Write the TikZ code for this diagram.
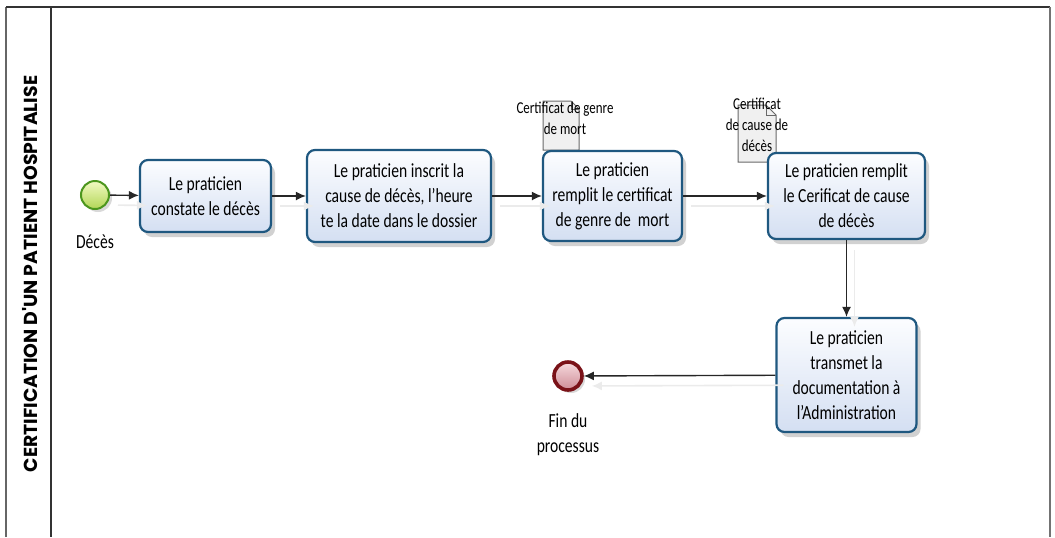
\documentclass[tikz,border=0pt]{standalone}
\usepackage{fontspec}
\setmainfont{Carlito}[FakeStretch=0.78]
\newfontfamily\lanefont{Poppins}
\usetikzlibrary{arrows.meta,shadows}

\definecolor{taskborder}{RGB}{31,88,128}
\definecolor{tasktop}{RGB}{252,253,255}
\definecolor{taskbottom}{RGB}{212,223,242}
\definecolor{startborder}{RGB}{76,150,30}
\definecolor{starttop}{RGB}{242,250,195}
\definecolor{startbottom}{RGB}{178,214,86}
\definecolor{stopborder}{RGB}{122,18,24}
\definecolor{stoptop}{RGB}{246,218,222}
\definecolor{stopbottom}{RGB}{206,140,150}
\definecolor{docfill}{RGB}{240,240,240}
\definecolor{docborder}{RGB}{105,105,105}

\begin{document}
\begin{tikzpicture}[x=0.5pt,y=-0.5pt,
    task/.style={draw=taskborder,line width=1.1pt,rounded corners=4pt,
      top color=tasktop,bottom color=taskbottom,align=center,inner sep=2pt,
      font=\fontsize{10}{12.5}\selectfont,
      drop shadow={shadow xshift=2pt,shadow yshift=-2.5pt,opacity=0.3,fill=black!60}},
    event/.style={circle,minimum size=14pt,inner sep=0pt,
      drop shadow={shadow xshift=1.5pt,shadow yshift=-1.5pt,opacity=0.25,fill=black!60}},
    startevent/.style={event,draw=startborder,line width=1pt,
      top color=starttop,bottom color=startbottom},
    stopevent/.style={event,draw=stopborder,line width=1.8pt,
      top color=stoptop,bottom color=stopbottom},
    evlabel/.style={align=center,font=\fontsize{10}{12.5}\selectfont},
    doclabel/.style={align=center,font=\fontsize{8.3}{10.5}\selectfont},
    flow/.style={-{Latex[length=5pt,width=4.5pt]},line width=0.7pt,black!85,
      preaction={draw=black!8,line width=0.8pt,
        transform canvas={xshift=4pt,yshift=-5pt}}}]

    \useasboundingbox (0,0) rectangle (1055,537);

    %==================== Pool and lane ====================
    \draw[black!60,line width=0.6pt] (6,537) -- (6,7);
    \draw[black!80,line width=1.2pt] (6,7) -- (1050,7);
    \draw[black!55,line width=1.2pt] (1050,7) -- (1050,537);
    \draw[black!80,line width=0.6pt] (51,7) -- (51,537);
    \node[rotate=90,font=\lanefont\bfseries\fontsize{9.4}{10}\selectfont] (lane)
      at (30,274) {CERTIFICATION D'UN PATIENT HOSPITALISE};

    %==================== Data objects ====================
    \foreach \x/\y/\w/\h/\f in {543/101/36/49/8, 738/105/38/57/10} {
      \draw[docborder,fill=docfill,line width=0.5pt]
        (\x,\y) -- (\x+\w-\f,\y) -- (\x+\w,\y+\f) -- (\x+\w,\y+\h) -- (\x,\y+\h) -- cycle;
      \draw[docborder,line width=0.5pt] (\x+\w-\f,\y) -- (\x+\w-\f,\y+\f) -- (\x+\w,\y+\f);
    }
    \node[doclabel] (doc1) at (565,118) {Certificat de genre\\de mort};
    \node[doclabel] (doc2) at (757,125) {Certificat\\de cause de\\décès};

    %==================== Events ====================
    \node[startevent] (start) at (95,195) {};
    \node[evlabel] (startlbl) at (95,242) {Décès};
    \node[stopevent] (stop) at (568,376) {};
    \node[evlabel] (stoplbl) at (568,435) {Fin du\\processus};

    %==================== Tasks ====================
    \node[task,minimum width=65.5pt,minimum height=36pt] (t1) at (205.5,196)
      {Le praticien\\constate le décès};
    \node[task,minimum width=92pt,minimum height=46pt] (t2) at (399,196)
      {Le praticien inscrit la\\cause de décès, l'heure\\te la date dans le dossier};
    \node[task,minimum width=69.5pt,minimum height=45pt] (t3) at (612.5,196)
      {Le praticien\\remplit le certificat\\de genre de\ \ mort};
    \node[task,minimum width=78.5pt,minimum height=43pt] (t4) at (846.5,196)
      {Le praticien remplit\\le Cerificat de cause\\de décès};
    \node[task,minimum width=70pt,minimum height=57pt] (t5) at (846.5,375)
      {Le praticien\\transmet la\\documentation à\\l'Administration};

    %==================== Sequence flows ====================
    \foreach \a/\b in {start/t1,t1/t2,t2/t3,t3/t4,t4/t5,t5/stop} {
      \draw[flow] (\a) -- (\b);
    }

\end{tikzpicture}
\end{document}
